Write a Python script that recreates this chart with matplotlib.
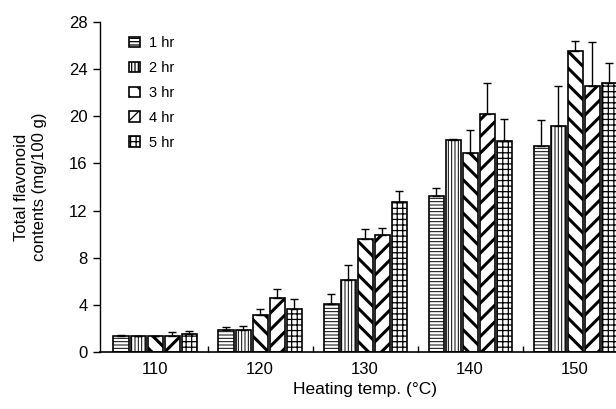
import matplotlib
matplotlib.use("Agg")
import matplotlib.pyplot as plt
import numpy as np

plt.rcParams['font.family'] = ['Liberation Sans', 'DejaVu Sans']

temps = ['110', '120', '130', '140', '150']
series = ['1 hr', '2 hr', '3 hr', '4 hr', '5 hr']
v1 = [1.35, 1.9, 4.1, 13.2, 17.45]
v2 = [1.35, 1.85, 6.1, 17.95, 19.2]
v3 = [1.35, 3.1, 9.6, 16.9, 25.5]
v4 = [1.4, 4.6, 9.9, 20.2, 22.6]
v5 = [1.55, 3.65, 12.7, 17.9, 22.8]
e1 = [0.1, 0.2, 0.8, 0.75, 2.2]
e2 = [0.05, 0.35, 1.3, 0.15, 3.35]
e3 = [0.05, 0.55, 0.85, 1.9, 0.9]
e4 = [0.3, 0.75, 0.6, 2.65, 3.7]
e5 = [0.25, 0.85, 0.95, 1.85, 1.7]
yticks = [0, 4, 8, 12, 16, 20, 24, 28]

values = [v1, v2, v3, v4, v5]
errors = [e1, e2, e3, e4, e5]
hatches = ['-----', '|||||', '\\\\', '//', '+++']
hlw = [0.7, 0.7, 2.2, 2.2, 0.9]

fig = plt.figure(figsize=(6.16, 4.09), dpi=100)
ax = fig.add_axes([100/616, 1 - 352/409, 516/616, 330/409])

x = np.arange(len(temps))
pitch = 0.162
width = 0.143
for i, (vals, errs) in enumerate(zip(values, errors)):
    pos = x + (i - 2) * pitch
    plt.rcParams['hatch.linewidth'] = hlw[i]
    bars = ax.bar(pos, vals, width, color='white', edgecolor='black',
                  linewidth=1.2, hatch=hatches[i], label=series[i], zorder=2)
    for b in bars:
        try:
            b.set_hatch_linewidth(hlw[i])
        except AttributeError:
            pass
    ax.errorbar(pos, vals, yerr=[np.zeros(len(errs)), errs], fmt='none',
                ecolor='black', elinewidth=1.0, capsize=3, capthick=1.0, zorder=3)

ax.set_xlim(-0.524, 4.39)
ax.set_ylim(0, 28)
ax.set_yticks(yticks)
ax.set_xticks(x)
ax.set_xticklabels(temps)
ax.set_xticks(x[:-1] + 0.5, minor=True)
ax.tick_params(axis='x', which='major', length=0, pad=7, labelsize=12)
ax.tick_params(axis='x', which='minor', direction='in', length=4, width=1)
ax.tick_params(axis='y', direction='out', length=5, width=1, labelsize=12, pad=4)

for s in ['top', 'right']:
    ax.spines[s].set_visible(False)
ax.spines['left'].set_linewidth(1.0)
ax.spines['bottom'].set_linewidth(1.2)

ax.set_xlabel('Heating temp. (°C)', fontsize=12.5)
ax.set_ylabel('Total flavonoid\ncontents (mg/100 g)', fontsize=12)
ax.xaxis.set_label_coords(0.513, -0.09)
ax.yaxis.set_label_coords(-0.103, 0.5)

leg = ax.legend(loc='upper left', bbox_to_anchor=(0.045, 0.975), frameon=False,
                fontsize=10.5, handlelength=0.75, handleheight=0.75,
                labelspacing=0.75, handletextpad=0.6, borderaxespad=0)

fig.savefig('out.png', dpi=100)
